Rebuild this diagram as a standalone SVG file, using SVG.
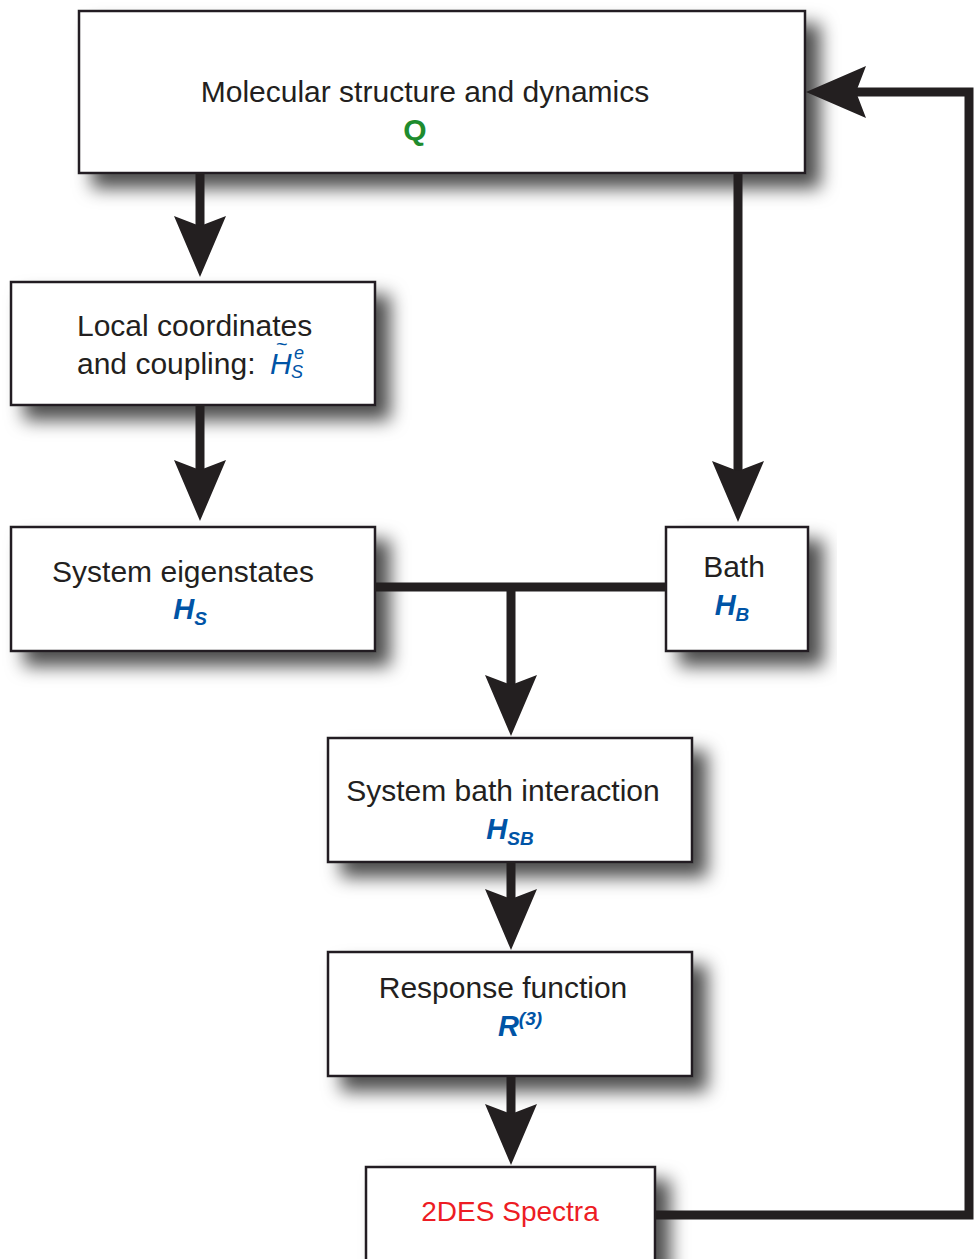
<svg xmlns="http://www.w3.org/2000/svg" width="974" height="1259" viewBox="0 0 974 1259">
<defs>
<filter id="sh" x="-10%" y="-20%" width="130%" height="150%">
<feDropShadow dx="14" dy="14" stdDeviation="9" flood-color="#000" flood-opacity="0.7"/>
</filter>
</defs>
<style>
.box{fill:#fff;stroke:#231f20;stroke-width:2.5;filter:url(#sh)}
.t{font-family:"Liberation Sans",Arial,sans-serif;font-size:30px;fill:#231f20}
.m{font-family:"Liberation Sans",Arial,sans-serif;font-size:29px;font-weight:bold;font-style:italic;fill:#0054a6}
.sub{font-size:19px}
.ln{fill:none;stroke:#231f20;stroke-width:9}
.ah{fill:#231f20}
</style>
<rect width="974" height="1259" fill="#fff"/>
<g id="n-molecular">
<rect class="box" x="79" y="11" width="726" height="162"/>
<text class="t" x="425" y="102" text-anchor="middle">Molecular structure and dynamics</text>
<text class="t" x="415" y="140" text-anchor="middle" style="font-weight:bold;fill:#1e8c2e">Q</text>
</g>
<g id="n-local">
<rect class="box" x="11" y="282" width="364" height="123"/>
<text class="t" x="77" y="336">Local coordinates</text>
<text class="t" x="77" y="374">and coupling:</text>
<text class="t" x="270" y="374" style="font-style:italic;fill:#0054a6">H</text>
<text class="t" x="276" y="351" style="fill:#0054a6;font-size:20px">~</text>
<text class="t" x="291" y="378" style="font-style:italic;fill:#0054a6;font-size:18px">S</text>
<text class="t" x="294" y="359" style="font-style:italic;fill:#0054a6;font-size:18px">e</text>
</g>
<g id="n-system">
<rect class="box" x="11" y="527" width="364" height="124"/>
<text class="t" x="183" y="582" text-anchor="middle">System eigenstates</text>
<text class="m" x="190" y="619" text-anchor="middle">H<tspan class="sub" dy="6">S</tspan></text>
</g>
<g id="n-bath">
<rect class="box" x="666" y="527" width="142" height="124"/>
<text class="t" x="734" y="577" text-anchor="middle">Bath</text>
<text class="m" x="732" y="615" text-anchor="middle">H<tspan class="sub" dy="6">B</tspan></text>
</g>
<g id="n-sb">
<rect class="box" x="328" y="738" width="364" height="124"/>
<text class="t" x="503" y="801" text-anchor="middle">System bath interaction</text>
<text class="m" x="510" y="839" text-anchor="middle">H<tspan class="sub" dy="6">SB</tspan></text>
</g>
<g id="n-response">
<rect class="box" x="328" y="952" width="364" height="124"/>
<text class="t" x="503" y="998" text-anchor="middle">Response function</text>
<text class="m" x="520" y="1036" text-anchor="middle">R<tspan class="sub" dy="-11">(3)</tspan></text>
</g>
<g id="n-2des">
<rect class="box" x="366" y="1167" width="289" height="110"/>
<text class="t" x="510" y="1221" text-anchor="middle" style="fill:#ed1c24;font-size:28px">2DES Spectra</text>
</g>
<g id="connectors">
<path class="ln" d="M200 173V235"/>
<path class="ah" d="M200 277L174 216L200 226L226 216Z"/>
<path class="ln" d="M200 405V470"/>
<path class="ah" d="M200 521L174 460L200 470L226 460Z"/>
<path class="ln" d="M738 173V472"/>
<path class="ah" d="M738 522L712 461L738 471L764 461Z"/>
<path class="ln" d="M375 587H666M511 587V686"/>
<path class="ah" d="M511 736L485 675L511 685L537 675Z"/>
<path class="ln" d="M511 862V900"/>
<path class="ah" d="M511 950L485 889L511 899L537 889Z"/>
<path class="ln" d="M511 1076V1115"/>
<path class="ah" d="M511 1165L485 1104L511 1114L537 1104Z"/>
<path class="ln" d="M655 1215H969V92H855"/>
<path class="ah" d="M806 92L866 66L856 92L866 118Z"/>
</g>
</svg>
